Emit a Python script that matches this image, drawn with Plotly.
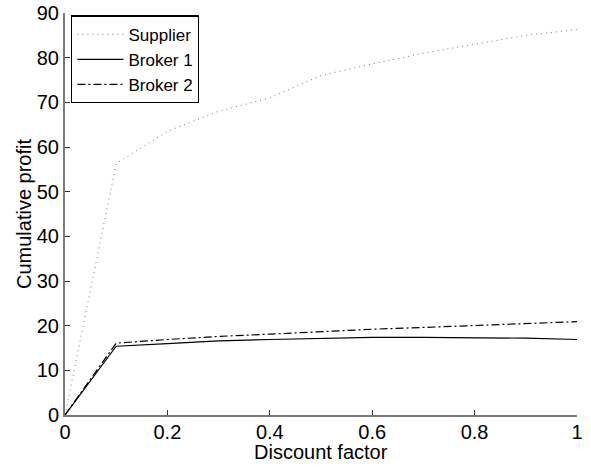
import plotly.graph_objects as go

discount = [0, 0.1, 0.2, 0.3, 0.4, 0.5, 0.6, 0.7, 0.8, 0.9, 1.0]
supplier = [0, 56.3, 63.5, 68.0, 71.0, 76.0, 78.6, 81.0, 83.0, 85.0, 86.3]
broker1 = [0, 15.4, 16.0, 16.6, 16.9, 17.2, 17.4, 17.4, 17.3, 17.2, 16.9]
broker2 = [0, 16.1, 16.9, 17.6, 18.1, 18.7, 19.2, 19.6, 20.0, 20.5, 20.9]

x_ticks = [0, 0.2, 0.4, 0.6, 0.8, 1]
x_tick_labels = ["0", "0.2", "0.4", "0.6", "0.8", "1"]
y_ticks = list(range(0, 91, 10))

font_family = "Liberation Sans, Arial, sans-serif"

fig = go.Figure()
fig.add_trace(go.Scatter(x=discount, y=supplier, mode="lines", name="Supplier",
                         line=dict(color="#777777", width=1, dash="1px,4px")))
fig.add_trace(go.Scatter(x=discount, y=broker1, mode="lines", name="Broker 1",
                         line=dict(color="black", width=1.2, dash="solid")))
fig.add_trace(go.Scatter(x=discount, y=broker2, mode="lines", name="Broker 2",
                         line=dict(color="black", width=1.2, dash="8px,3px,2px,3px")))

axis_common = dict(showgrid=False, zeroline=False, showline=True, linecolor="#7a7a7a",
                   linewidth=2, ticks="inside", ticklen=5, tickcolor="#333333",
                   tickwidth=1, automargin=False,
                   tickfont=dict(size=20, color="black", family=font_family))

fig.update_layout(
    template="none",
    width=591, height=467,
    margin=dict(l=65, r=14, t=13, b=52),
    paper_bgcolor="white", plot_bgcolor="white",
    font=dict(family=font_family, color="black"),
    xaxis=dict(range=[0, 1], tickvals=x_ticks, ticktext=x_tick_labels,
               ticklabelstandoff=-2, **axis_common),
    yaxis=dict(range=[0, 90], tickvals=y_ticks, **axis_common),
    legend=dict(x=0.012, y=0.994, xanchor="left", yanchor="top",
                bordercolor="black", borderwidth=1.3, bgcolor="white",
                font=dict(size=17, family=font_family, color="black"),
                itemwidth=46, tracegroupgap=0),
    showlegend=True,
    annotations=[
        dict(text="Discount factor", xref="paper", yref="paper", x=0.5, y=-0.093,
             xanchor="center", yanchor="middle", showarrow=False,
             font=dict(size=20, family=font_family, color="black")),
        dict(text="Cumulative profit", xref="paper", yref="paper", x=-0.080, y=0.5,
             xanchor="center", yanchor="middle", textangle=-90, showarrow=False,
             font=dict(size=20, family=font_family, color="black")),
    ],
)

fig.write_html("out.html", config={"displayModeBar": False},
               post_script="document.body.style.margin='0';")
